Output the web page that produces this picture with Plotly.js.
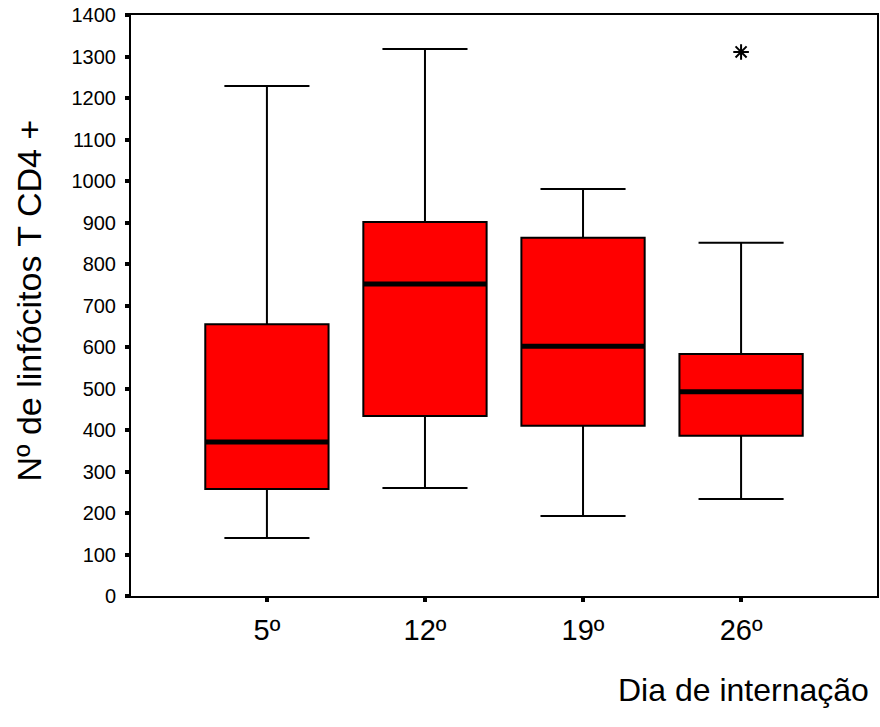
<!DOCTYPE html>
<html>
<head>
<meta charset="utf-8">
<script src="https://cdn.plot.ly/plotly-3.0.1.min.js"></script>
<style>html,body{margin:0;padding:0;background:#fff;}#chart{width:880px;height:727px;}</style>
</head>
<body>
<div id="chart"></div>
<script>
var categories = ["5º", "12º", "19º", "26º"];
var lowerWhisker = [140, 260, 193, 234];
var q1Values = [258, 434, 410, 386];
var medianValues = [371, 752, 602, 492];
var q3Values = [655, 901, 863, 583];
var upperWhisker = [1229, 1318, 981, 851];
var outlierCategory = ["26º"];
var outlierValues = [1311];
var yTicks = [0,100,200,300,400,500,600,700,800,900,1000,1100,1200,1300,1400];

var pos = categories.map(function(c, i){ return i; });
var boxW = 0.78;

var traces = [{
  type: 'box',
  x: pos,
  q1: q1Values,
  median: medianValues,
  q3: q3Values,
  lowerfence: lowerWhisker,
  upperfence: upperWhisker,
  width: boxW,
  whiskerwidth: 0.69,
  fillcolor: '#ff0000',
  line: {color: '#000', width: 2},
  boxpoints: false,
  hoverinfo: 'skip',
  showlegend: false
}, {
  type: 'scatter',
  mode: 'markers',
  x: outlierCategory.map(function(c){ return categories.indexOf(c); }),
  y: outlierValues,
  marker: {symbol: 'asterisk-open', size: 13, color: '#000', line: {color: '#000', width: 2}},
  showlegend: false,
  hoverinfo: 'skip'
}];

var shapes = medianValues.map(function(m, i){
  return {type: 'line', xref: 'x', yref: 'y', x0: i - boxW/2, x1: i + boxW/2, y0: m, y1: m,
          line: {color: '#000', width: 5}, layer: 'above'};
});

var layout = {
  width: 880, height: 727,
  margin: {l: 131, r: 3, t: 15, b: 131},
  paper_bgcolor: '#fff', plot_bgcolor: '#fff',
  font: {family: 'Liberation Sans, Arial, sans-serif', color: '#000'},
  showlegend: false,
  xaxis: {
    range: [-0.86, 3.86],
    tickvals: pos, ticktext: categories,
    showgrid: false, zeroline: false,
    showline: true, mirror: true, linecolor: '#000', linewidth: 2,
    ticks: 'outside', ticklen: 4, tickwidth: 4, tickcolor: '#000',
    tickfont: {size: 29, family: 'Liberation Sans, Arial, sans-serif'},
    ticklabelstandoff: 3
  },
  yaxis: {
    range: [0, 1400],
    tickvals: yTicks,
    showgrid: false, zeroline: false,
    showline: true, mirror: true, linecolor: '#000', linewidth: 2,
    ticks: 'outside', ticklen: 4, tickwidth: 4, tickcolor: '#000',
    tickfont: {size: 20, family: 'Liberation Sans, Arial, sans-serif'},
    ticklabelstandoff: 5
  },
  shapes: shapes,
  annotations: [{
    xref: 'paper', yref: 'paper', x: 1, y: 0, xanchor: 'right', yanchor: 'middle',
    yshift: -94, xshift: -6,
    text: 'Dia de internação', showarrow: false,
    font: {size: 32, family: 'Liberation Sans, Arial, sans-serif', color: '#000'}
  }, {
    xref: 'paper', yref: 'paper', x: 0, y: 0.5, xanchor: 'center', yanchor: 'middle',
    xshift: -103, yshift: 5, textangle: -90,
    text: 'Nº de linfócitos T CD4 +', showarrow: false,
    font: {size: 34, family: 'Liberation Sans, Arial, sans-serif', color: '#000'}
  }]
};

Plotly.newPlot('chart', traces, layout, {displayModeBar: false, staticPlot: true});
</script>
</body>
</html>
